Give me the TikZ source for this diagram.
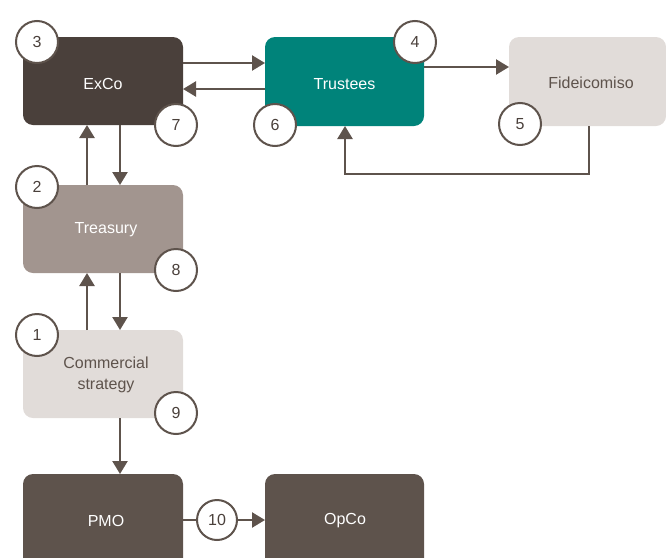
\documentclass[tikz,border=0pt]{standalone}
\usepackage{fontspec}
\setmainfont{Liberation Sans}
\usetikzlibrary{arrows.meta}
\definecolor{darkbrown}{HTML}{4A403B}
\definecolor{midbrown}{HTML}{5E534C}
\definecolor{taupe}{HTML}{A2958F}
\definecolor{lightstone}{HTML}{E1DCD9}
\definecolor{teal}{HTML}{00837A}
\definecolor{linecol}{HTML}{5E534C}
\tikzset{
  x=1pt, y=-1pt,
  label text/.style={font=\fontsize{16}{21}\selectfont, align=center, inner sep=0pt},
  badge/.style={circle, draw=linecol, line width=2pt, fill=white, minimum size=42pt, inner sep=0pt,
    text=darkbrown, font=\fontsize{16}{18}\selectfont},
  flow/.style={draw=linecol, line width=2.4pt, -{Triangle[length=13pt,width=15pt]}},
}
\begin{document}
\begin{tikzpicture}
\useasboundingbox (0,0) rectangle (666,557);
\clip (0,0) rectangle (666,557);
% boxes
\path[fill=darkbrown, rounded corners=10pt] (23,37) rectangle (183,125);
\node[label text, text=white] (exco) at (103,84) {ExCo};
\path[fill=teal, rounded corners=10pt] (265,37) rectangle (424,126);
\node[label text, text=white] (trustees) at (344.5,84) {Trustees};
\path[fill=lightstone, rounded corners=10pt] (509,37) rectangle (666,126);
\node[label text, text=midbrown] (fide) at (591,83) {Fideicomiso};
\path[fill=taupe, rounded corners=10pt] (23,185) rectangle (183,273);
\node[label text, text=white] (treasury) at (106,230) {Treasury};
\path[fill=lightstone, rounded corners=10pt] (23,330) rectangle (183,418);
\node[label text, text=midbrown] (comm) at (106,375) {Commercial\\strategy};
\path[fill=midbrown, rounded corners=10pt] (23,474) rectangle (183,575);
\node[label text, text=white] (pmo) at (106,521) {PMO};
\path[fill=midbrown, rounded corners=10pt] (265,474) rectangle (424,575);
\node[label text, text=white] (opco) at (345,521) {OpCo};
% connector anchors on box edges
\coordinate (excoR1) at (183,63);
\coordinate (excoR2) at (183,89);
\coordinate (trL1) at (265,63);
\coordinate (trL2) at (265,89);
\coordinate (trR) at (424,67);
\coordinate (fiL) at (509,67);
\coordinate (fiB) at (589,126);
\coordinate (loop1) at (589,174);
\coordinate (loop2) at (345,174);
\coordinate (trB) at (345,126);
\coordinate (excoB1) at (87,125);
\coordinate (excoB2) at (120,125);
\coordinate (treT1) at (87,185);
\coordinate (treT2) at (120,185);
\coordinate (treB1) at (87,273);
\coordinate (treB2) at (120,273);
\coordinate (comT1) at (87,330);
\coordinate (comT2) at (120,330);
\coordinate (comB) at (120,418);
\coordinate (pmoT) at (120,474);
\coordinate (pmoR) at (183,520);
\coordinate (opL) at (265,520);
% connectors
\draw[flow] (excoR1) -- (trL1);
\draw[flow] (trL2) -- (excoR2);
\draw[flow] (trR) -- (fiL);
\draw[flow] (fiB) -- (loop1) -- (loop2) -- (trB);
\draw[flow] (treT1) -- (excoB1);
\draw[flow] (excoB2) -- (treT2);
\draw[flow] (comT1) -- (treB1);
\draw[flow] (treB2) -- (comT2);
\draw[flow] (comB) -- (pmoT);
\draw[flow] (pmoR) -- (opL);
% numbered badges
\node[badge] (n3) at (37,42) {3};
\node[badge] (n7) at (176,125) {7};
\node[badge] (n4) at (415,42) {4};
\node[badge] (n6) at (275,125) {6};
\node[badge] (n5) at (520,124) {5};
\node[badge] (n2) at (37,187) {2};
\node[badge] (n8) at (176,270) {8};
\node[badge] (n1) at (37,335) {1};
\node[badge] (n9) at (176,413) {9};
\node[badge, minimum size=40pt] (n10) at (217,520) {10};
\end{tikzpicture}
\end{document}
